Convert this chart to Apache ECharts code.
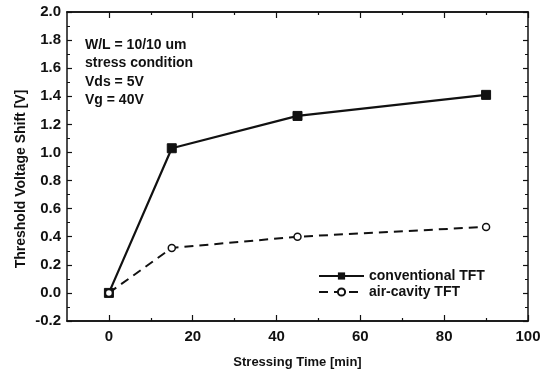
<!DOCTYPE html>
<html>
<head>
<meta charset="utf-8">
<script src="https://cdn.jsdelivr.net/npm/echarts@6/dist/echarts.min.js"></script>
<style>
  html, body { margin: 0; padding: 0; background: #fff; }
  #chart { width: 548px; height: 375px; }
</style>
</head>
<body>
<div id="chart"></div>
<script>
const stressTime = [0, 15, 45, 90];
const conventional = [0, 1.03, 1.26, 1.41];
const airCavity = [0, 0.32, 0.40, 0.47];
const xMajorTicks = [0, 20, 40, 60, 80, 100];
const xMinorTicks = [10, 30, 50, 70, 90];
const notes = ['W/L = 10/10 um', 'stress condition', 'Vds = 5V', 'Vg = 40V'];

const FONT = 'Liberation Sans';
const INK = '#111';

const chart = echarts.init(document.getElementById('chart'));

function xAxisDef(position, ticks, len, labels) {
  return {
    type: 'value',
    position,
    min: -10,
    max: 100,
    axisLine: { show: true, onZero: false, lineStyle: { color: INK, width: 1.5 } },
    axisTick: { show: true, inside: true, length: len, customValues: ticks, lineStyle: { color: INK, width: 1.2 } },
    axisLabel: labels
      ? { show: true, customValues: ticks, color: INK, fontFamily: FONT, fontSize: 15, fontWeight: 'bold', margin: 8 }
      : { show: false },
    splitLine: { show: false },
  };
}

function yAxisDef(position, labels) {
  return {
    type: 'value',
    position,
    min: -0.2,
    max: 2.0,
    interval: 0.2,
    axisLine: { show: true, onZero: false, lineStyle: { color: INK, width: 1.5 } },
    axisTick: { show: true, inside: true, length: 5, lineStyle: { color: INK, width: 1.2 } },
    minorTick: { show: true, splitNumber: 2, length: 3, lineStyle: { color: INK, width: 1 } },
    axisLabel: labels
      ? { show: true, color: INK, fontFamily: FONT, fontSize: 15, fontWeight: 'bold', margin: 6,
          formatter: (v) => v.toFixed(1) }
      : { show: false },
    splitLine: { show: false },
    minorSplitLine: { show: false },
  };
}

const bottom = xAxisDef('bottom', xMajorTicks, 6, true);
bottom.name = 'Stressing Time [min]';
bottom.nameLocation = 'middle';
bottom.nameGap = 35;
bottom.nameTextStyle = { color: INK, fontFamily: FONT, fontSize: 13, fontWeight: 'bold' };

chart.setOption({
  animation: false,
  backgroundColor: '#fff',
  grid: { left: 67, right: 20, top: 12, bottom: 54 },
  xAxis: [
    bottom,
    xAxisDef('bottom', xMinorTicks, 3, false),
    xAxisDef('top', xMajorTicks, 6, false),
    xAxisDef('top', xMinorTicks, 3, false),
  ],
  yAxis: [yAxisDef('left', true), yAxisDef('right', false)],
  legend: {
    orient: 'vertical',
    left: 313,
    top: 264,
    itemWidth: 45,
    itemHeight: 9,
    itemGap: 2,
    textStyle: { color: INK, fontFamily: FONT, fontSize: 14, fontWeight: 'bold' },
    data: ['conventional TFT', 'air-cavity TFT'],
  },
  graphic: [
    ...notes.map((t, i) => ({
      type: 'text',
      x: 85,
      y: 45 + i * 18.5,
      style: { text: t, fill: INK, font: 'bold 14px "Liberation Sans"', textVerticalAlign: 'middle' },
    })),
    {
      type: 'text',
      x: 21,
      y: 179,
      rotation: Math.PI / 2,
      style: {
        text: 'Threshold Voltage Shift [V]', fill: INK, font: 'bold 14px "Liberation Sans"',
        textAlign: 'center', textVerticalAlign: 'middle',
      },
    },
  ],
  series: [
    {
      name: 'conventional TFT',
      type: 'line',
      data: stressTime.map((x, i) => [x, conventional[i]]),
      symbol: 'rect',
      symbolSize: 9,
      itemStyle: { color: INK, borderColor: INK },
      lineStyle: { color: INK, width: 2.2 },
    },
    {
      name: 'air-cavity TFT',
      type: 'line',
      data: stressTime.map((x, i) => [x, airCavity[i]]),
      symbol: 'circle',
      symbolSize: 7,
      itemStyle: { color: '#fff', borderColor: INK, borderWidth: 1.5 },
      lineStyle: { color: INK, width: 2, type: [9, 6] },
    },
  ],
});
</script>
</body>
</html>
